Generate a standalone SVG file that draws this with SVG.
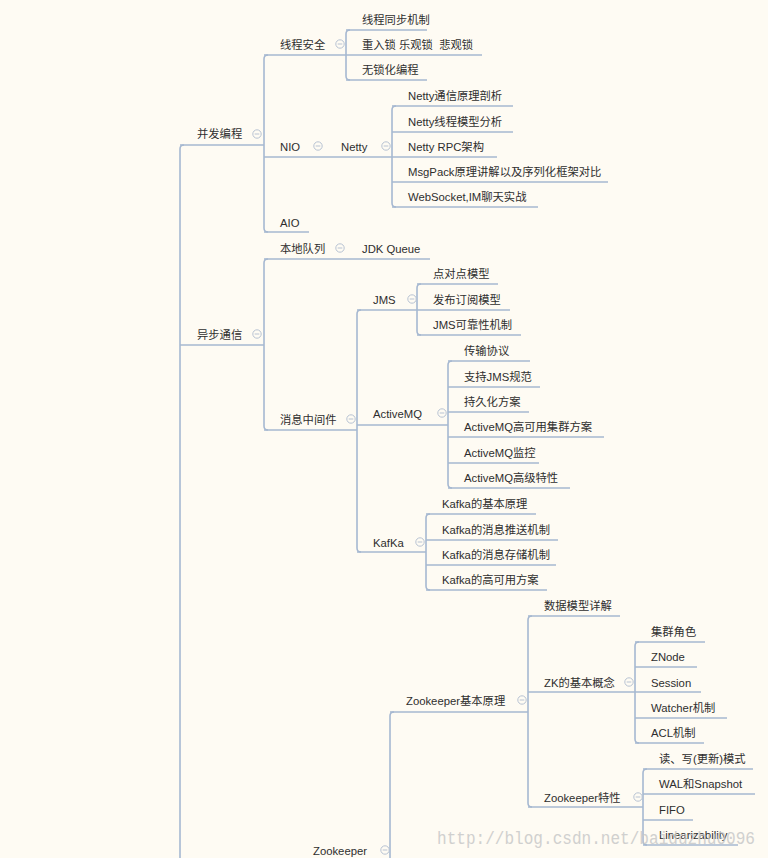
<svg xmlns="http://www.w3.org/2000/svg" width="768" height="858" viewBox="0 0 768 858">
<style>
text{font-family:"Liberation Sans","Noto Sans CJK SC",sans-serif;font-size:11.3px;fill:#2e2e2e}
.c path,.c line{stroke:#a6b8d1;stroke-width:1.6;fill:none}
.ic circle{fill:none;stroke:#b8c3d3;stroke-width:1}
.ic line{stroke:#b8c3d3;stroke-width:1}
.wm{font-family:"Liberation Mono",monospace;font-size:18px;fill:#c9c9c9;opacity:.85}
</style>
<defs>
<g id="mi" class="ic"><circle cx="0" cy="0" r="4.2"/><line x1="-2.3" y1="0" x2="2.3" y2="0"/></g>
</defs>
<rect width="768" height="858" fill="#fefbf3"/>
<g class="c" id="connectors">
<!-- main spine -->
<path d="M184 145 Q180 145 180 149 L180 858"/>
<line x1="180" y1="145" x2="264" y2="145"/>
<line x1="180" y1="345" x2="264" y2="345"/>
<!-- 并发编程 bracket -->
<path d="M268 55 Q264 55 264 59 L264 228 Q264 232 268 232"/>
<line x1="264" y1="55" x2="346" y2="55"/>
<line x1="264" y1="157" x2="392" y2="157"/>
<line x1="264" y1="232" x2="309" y2="232"/>
<!-- 线程安全 bracket -->
<path d="M350 30 Q346 30 346 34 L346 76 Q346 80 350 80"/>
<line x1="346" y1="30" x2="427" y2="30"/>
<line x1="346" y1="55" x2="482" y2="55"/>
<line x1="346" y1="80" x2="427" y2="80"/>
<!-- Netty bracket -->
<path d="M396 106 Q392 106 392 110 L392 203 Q392 207 396 207"/>
<line x1="392" y1="106" x2="513" y2="106"/>
<line x1="392" y1="132" x2="513" y2="132"/>
<line x1="392" y1="157" x2="497" y2="157"/>
<line x1="392" y1="182" x2="608" y2="182"/>
<line x1="392" y1="207" x2="538" y2="207"/>
<!-- 异步通信 bracket -->
<path d="M268 259 Q264 259 264 263 L264 426 Q264 430 268 430"/>
<line x1="264" y1="259" x2="430" y2="259"/>
<line x1="264" y1="430" x2="357" y2="430"/>
<!-- 消息中间件 bracket -->
<path d="M361 310 Q357 310 357 314 L357 548 Q357 552 361 552"/>
<line x1="357" y1="310" x2="417" y2="310"/>
<line x1="357" y1="425" x2="448" y2="425"/>
<line x1="357" y1="552" x2="426" y2="552"/>
<!-- JMS bracket -->
<path d="M421 284 Q417 284 417 288 L417 331 Q417 335 421 335"/>
<line x1="417" y1="284" x2="498" y2="284"/>
<line x1="417" y1="310" x2="510" y2="310"/>
<line x1="417" y1="335" x2="521" y2="335"/>
<!-- ActiveMQ bracket -->
<path d="M452 361 Q448 361 448 365 L448 484 Q448 488 452 488"/>
<line x1="448" y1="361" x2="530" y2="361"/>
<line x1="448" y1="387" x2="540" y2="387"/>
<line x1="448" y1="412" x2="529" y2="412"/>
<line x1="448" y1="437" x2="604" y2="437"/>
<line x1="448" y1="463" x2="539" y2="463"/>
<line x1="448" y1="488" x2="570" y2="488"/>
<!-- KafKa bracket -->
<path d="M430 514 Q426 514 426 518 L426 586 Q426 590 430 590"/>
<line x1="426" y1="514" x2="536" y2="514"/>
<line x1="426" y1="540" x2="558" y2="540"/>
<line x1="426" y1="565" x2="556" y2="565"/>
<line x1="426" y1="590" x2="547" y2="590"/>
<!-- Zookeeper bracket -->
<path d="M394 712 Q390 712 390 716 L390 858"/>
<line x1="390" y1="712" x2="528" y2="712"/>
<!-- Zookeeper基本原理 bracket -->
<path d="M532 616 Q528 616 528 620 L528 803 Q528 807 532 807"/>
<line x1="528" y1="616" x2="620" y2="616"/>
<line x1="528" y1="692" x2="635" y2="692"/>
<line x1="528" y1="807" x2="643" y2="807"/>
<!-- ZK的基本概念 bracket -->
<path d="M639 642 Q635 642 635 646 L635 739 Q635 743 639 743"/>
<line x1="635" y1="642" x2="705" y2="642"/>
<line x1="635" y1="667" x2="697" y2="667"/>
<line x1="635" y1="692" x2="701" y2="692"/>
<line x1="635" y1="718" x2="727" y2="718"/>
<line x1="635" y1="743" x2="704" y2="743"/>
<!-- Zookeeper特性 bracket -->
<path d="M647 769 Q643 769 643 773 L643 841 Q643 845 647 845"/>
<line x1="643" y1="769" x2="753" y2="769"/>
<line x1="643" y1="794" x2="755" y2="794"/>
<line x1="643" y1="820" x2="693" y2="820"/>
<line x1="643" y1="845" x2="738" y2="845"/>
</g>
<g id="n-bingfa"><text x="197" y="138">并发编程</text><use href="#mi" x="257" y="134"/></g>
<g id="n-xiancheng"><text x="280" y="48.5">线程安全</text><use href="#mi" x="340" y="44"/></g>
<g id="n-tongbu"><text x="362" y="23.5">线程同步机制</text></g>
<g id="n-suo"><text x="362" y="48.5" xml:space="preserve">重入锁 乐观锁  悲观锁</text></g>
<g id="n-wusuo"><text x="362" y="74">无锁化编程</text></g>
<g id="n-nio"><text x="280" y="150.5">NIO</text><use href="#mi" x="318" y="146"/></g>
<g id="n-netty"><text x="341" y="150.5">Netty</text><use href="#mi" x="386" y="146"/></g>
<g id="n-netty1"><text x="408" y="99.5">Netty通信原理剖析</text></g>
<g id="n-netty2"><text x="408" y="125.5">Netty线程模型分析</text></g>
<g id="n-netty3"><text x="408" y="150.5">Netty RPC架构</text></g>
<g id="n-netty4"><text x="408" y="175.5">MsgPack原理讲解以及序列化框架对比</text></g>
<g id="n-netty5"><text x="408" y="201">WebSocket,IM聊天实战</text></g>
<g id="n-aio"><text x="280" y="226.5">AIO</text></g>
<g id="n-yibu"><text x="197" y="338.5">异步通信</text><use href="#mi" x="257" y="334"/></g>
<g id="n-bendi"><text x="280" y="252.5">本地队列</text><use href="#mi" x="340" y="248"/></g>
<g id="n-jdkq"><text x="362" y="252.5">JDK Queue</text></g>
<g id="n-xiaoxi"><text x="280" y="423.5">消息中间件</text><use href="#mi" x="351" y="419"/></g>
<g id="n-jms"><text x="373" y="303.5">JMS</text><use href="#mi" x="412" y="299"/></g>
<g id="n-jms1"><text x="433" y="277.5">点对点模型</text></g>
<g id="n-jms2"><text x="433" y="303.5">发布订阅模型</text></g>
<g id="n-jms3"><text x="433" y="329">JMS可靠性机制</text></g>
<g id="n-amq"><text x="373" y="417.5">ActiveMQ</text><use href="#mi" x="442" y="413"/></g>
<g id="n-amq1"><text x="464" y="355">传输协议</text></g>
<g id="n-amq2"><text x="464" y="380.5">支持JMS规范</text></g>
<g id="n-amq3"><text x="464" y="405.5">持久化方案</text></g>
<g id="n-amq4"><text x="464" y="431">ActiveMQ高可用集群方案</text></g>
<g id="n-amq5"><text x="464" y="456.5">ActiveMQ监控</text></g>
<g id="n-amq6"><text x="464" y="482">ActiveMQ高级特性</text></g>
<g id="n-kafka"><text x="373" y="546.5">KafKa</text><use href="#mi" x="420" y="542"/></g>
<g id="n-kafka1"><text x="442" y="507.5">Kafka的基本原理</text></g>
<g id="n-kafka2"><text x="442" y="533.5">Kafka的消息推送机制</text></g>
<g id="n-kafka3"><text x="442" y="558.5">Kafka的消息存储机制</text></g>
<g id="n-kafka4"><text x="442" y="583.5">Kafka的高可用方案</text></g>
<g id="n-zk"><text x="313" y="854.5">Zookeeper</text><use href="#mi" x="385" y="850"/></g>
<g id="n-zkbase"><text x="406" y="704.5">Zookeeper基本原理</text><use href="#mi" x="522" y="700"/></g>
<g id="n-zkdata"><text x="544" y="609.5">数据模型详解</text></g>
<g id="n-zkconcept"><text x="544" y="686.5">ZK的基本概念</text><use href="#mi" x="629" y="682"/></g>
<g id="n-zkc1"><text x="651" y="635.5">集群角色</text></g>
<g id="n-zkc2"><text x="651" y="660.5">ZNode</text></g>
<g id="n-zkc3"><text x="651" y="686.5">Session</text></g>
<g id="n-zkc4"><text x="651" y="711.5">Watcher机制</text></g>
<g id="n-zkc5"><text x="651" y="737">ACL机制</text></g>
<g id="n-zkfeat"><text x="544" y="801.5">Zookeeper特性</text><use href="#mi" x="638" y="797"/></g>
<g id="n-zkf1"><text x="659" y="762.5">读、写(更新)模式</text></g>
<g id="n-zkf2"><text x="659" y="787.5">WAL和Snapshot</text></g>
<g id="n-zkf3"><text x="659" y="813.5">FIFO</text></g>
<g id="n-zkf4"><text x="659" y="838.5">Linearizability</text></g>
<text class="wm" x="437" y="844" textLength="318" lengthAdjust="spacingAndGlyphs">http://blog.csdn.net/baiduzhu0096</text>
</svg>
